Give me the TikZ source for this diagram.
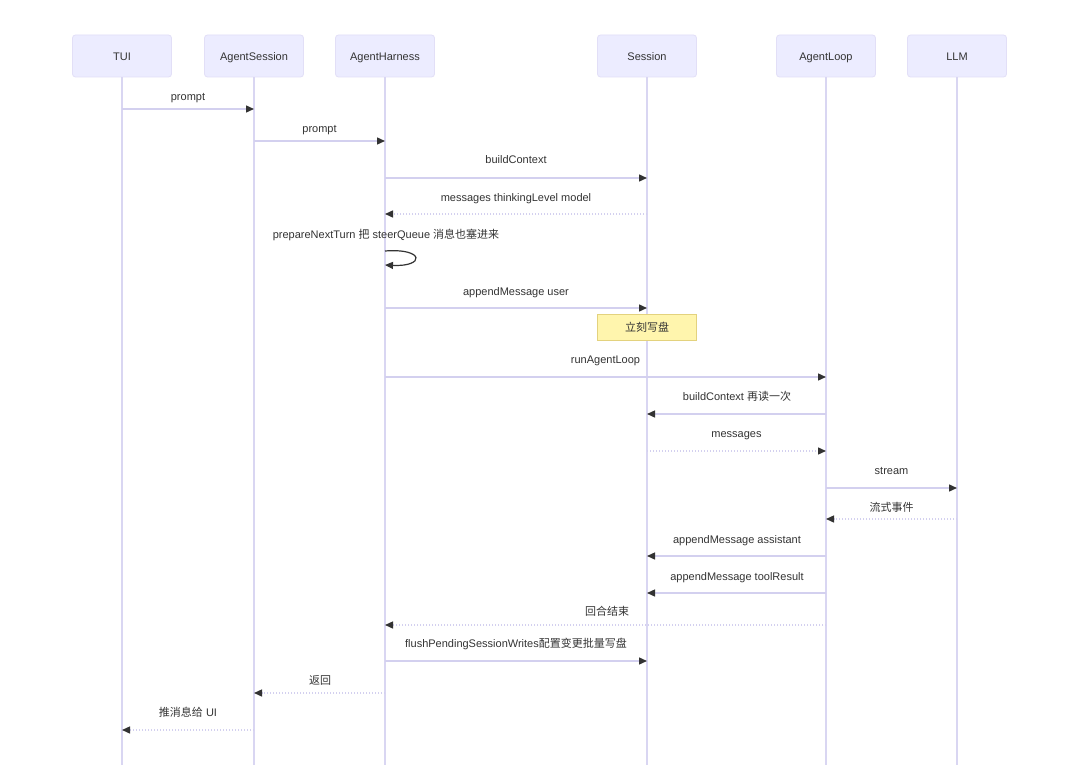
\documentclass[tikz,border=0pt]{standalone}
\usepackage{fontspec}
\setmainfont{Liberation Sans}
\newfontfamily\cjk{Noto Sans CJK SC}
\usetikzlibrary{arrows.meta}
\definecolor{txt}{HTML}{333333}
\definecolor{actfill}{HTML}{ECECFF}
\definecolor{actdraw}{HTML}{E2DFF7}
\definecolor{life}{HTML}{D9D6F2}
\definecolor{msgc}{HTML}{D3D0EF}
\definecolor{notefill}{HTML}{FFF5AD}
\definecolor{notedraw}{HTML}{E3D27E}
\tikzset{
  actor/.style={draw=actdraw, fill=actfill, rounded corners=3pt, minimum width=99pt, minimum height=42pt, inner sep=0pt, text height=10pt, text depth=0pt, text=txt, font=\fontsize{11}{13}\selectfont, line width=0.8pt},
  lifeline/.style={draw=life, line width=1.3pt},
  msg/.style={draw=msgc, line width=1.4pt, -{Triangle[length=8pt,width=7pt,color=txt]}},
  reply/.style={msg, dash pattern=on 1.4pt off 1.6pt},
  lbl/.style={text=txt, font=\fontsize{11}{13}\selectfont, inner sep=0pt, anchor=base, yshift=-4pt},
  notebox/.style={draw=notedraw, fill=notefill, minimum width=99pt, minimum height=26pt, inner sep=0pt, text=txt, font=\fontsize{11}{13}\selectfont, line width=0.8pt}
}
\begin{document}
\begin{tikzpicture}[x=1pt,y=-1pt]
\useasboundingbox[fill=white] (0,0) rectangle (1080,765);
% actors
\node[actor] (tui) at (122,56) {TUI};
\node[actor] (as) at (254,56) {AgentSession};
\node[actor] (ah) at (385,56) {AgentHarness};
\node[actor] (se) at (647,56) {Session};
\node[actor] (al) at (826,56) {AgentLoop};
\node[actor] (llm) at (957,56) {LLM};
% lifeline ends
\coordinate (tuiE) at (122,765);
\coordinate (asE) at (254,765);
\coordinate (ahE) at (385,765);
\coordinate (seE) at (647,765);
\coordinate (alE) at (826,765);
\coordinate (llmE) at (957,765);
\foreach \a in {tui,as,ah,se,al,llm} {\draw[lifeline] (\a.south) -- (\a E);}
% messages
\draw[msg] (tui |- 0,109) -- (as |- 0,109);
\node[lbl] at (188,97) {prompt};
\draw[msg] (as |- 0,141) -- (ah |- 0,141);
\node[lbl] at (319.5,129) {prompt};
\draw[msg] (ah |- 0,178) -- (se |- 0,178);
\node[lbl] at (516,160) {buildContext};
\draw[reply] (se |- 0,214) -- (ah |- 0,214);
\node[lbl] at (516,197) {messages thinkingLevel model};
\node[lbl] (loopl) at (386,234) {prepareNextTurn {\cjk 把} steerQueue {\cjk 消息也塞进来}};
\draw[draw=txt, line width=1.2pt, -{Triangle[length=8pt,width=7pt,color=txt]}] (ah |- 0,251) .. controls (425,248) and (425,267) .. (ah |- 0,265);
\draw[msg] (ah |- 0,308) -- (se |- 0,308);
\node[lbl] at (516,291) {appendMessage user};
\node[notebox] (note) at (647,327) {\cjk 立刻写盘};
\draw[msg] (ah |- 0,377) -- (al |- 0,377);
\node[lbl] at (605.5,359) {runAgentLoop};
\draw[msg] (al |- 0,414) -- (se |- 0,414);
\node[lbl] at (737,396) {buildContext {\cjk 再读一次}};
\draw[reply] (se |- 0,451) -- (al |- 0,451);
\node[lbl] at (736.5,433) {messages};
\draw[msg] (al |- 0,488) -- (llm |- 0,488);
\node[lbl] at (891.5,470) {stream};
\draw[reply] (llm |- 0,519) -- (al |- 0,519);
\node[lbl] at (891.5,507) {\cjk 流式事件};
\draw[msg] (al |- 0,556) -- (se |- 0,556);
\node[lbl] at (737,539) {appendMessage assistant};
\draw[msg] (al |- 0,593) -- (se |- 0,593);
\node[lbl] at (737,576) {appendMessage toolResult};
\draw[reply] (al |- 0,625) -- (ah |- 0,625);
\node[lbl] at (607,611) {\cjk 回合结束};
\draw[msg] (ah |- 0,661) -- (se |- 0,661);
\node[lbl] at (516,643) {flushPendingSessionWrites{\cjk 配置变更批量写盘}};
\draw[reply] (ah |- 0,693) -- (as |- 0,693);
\node[lbl] at (320,680) {\cjk 返回};
\draw[reply] (as |- 0,730) -- (tui |- 0,730);
\node[lbl] at (188,712) {{\cjk 推消息给} UI};
\end{tikzpicture}
\end{document}
